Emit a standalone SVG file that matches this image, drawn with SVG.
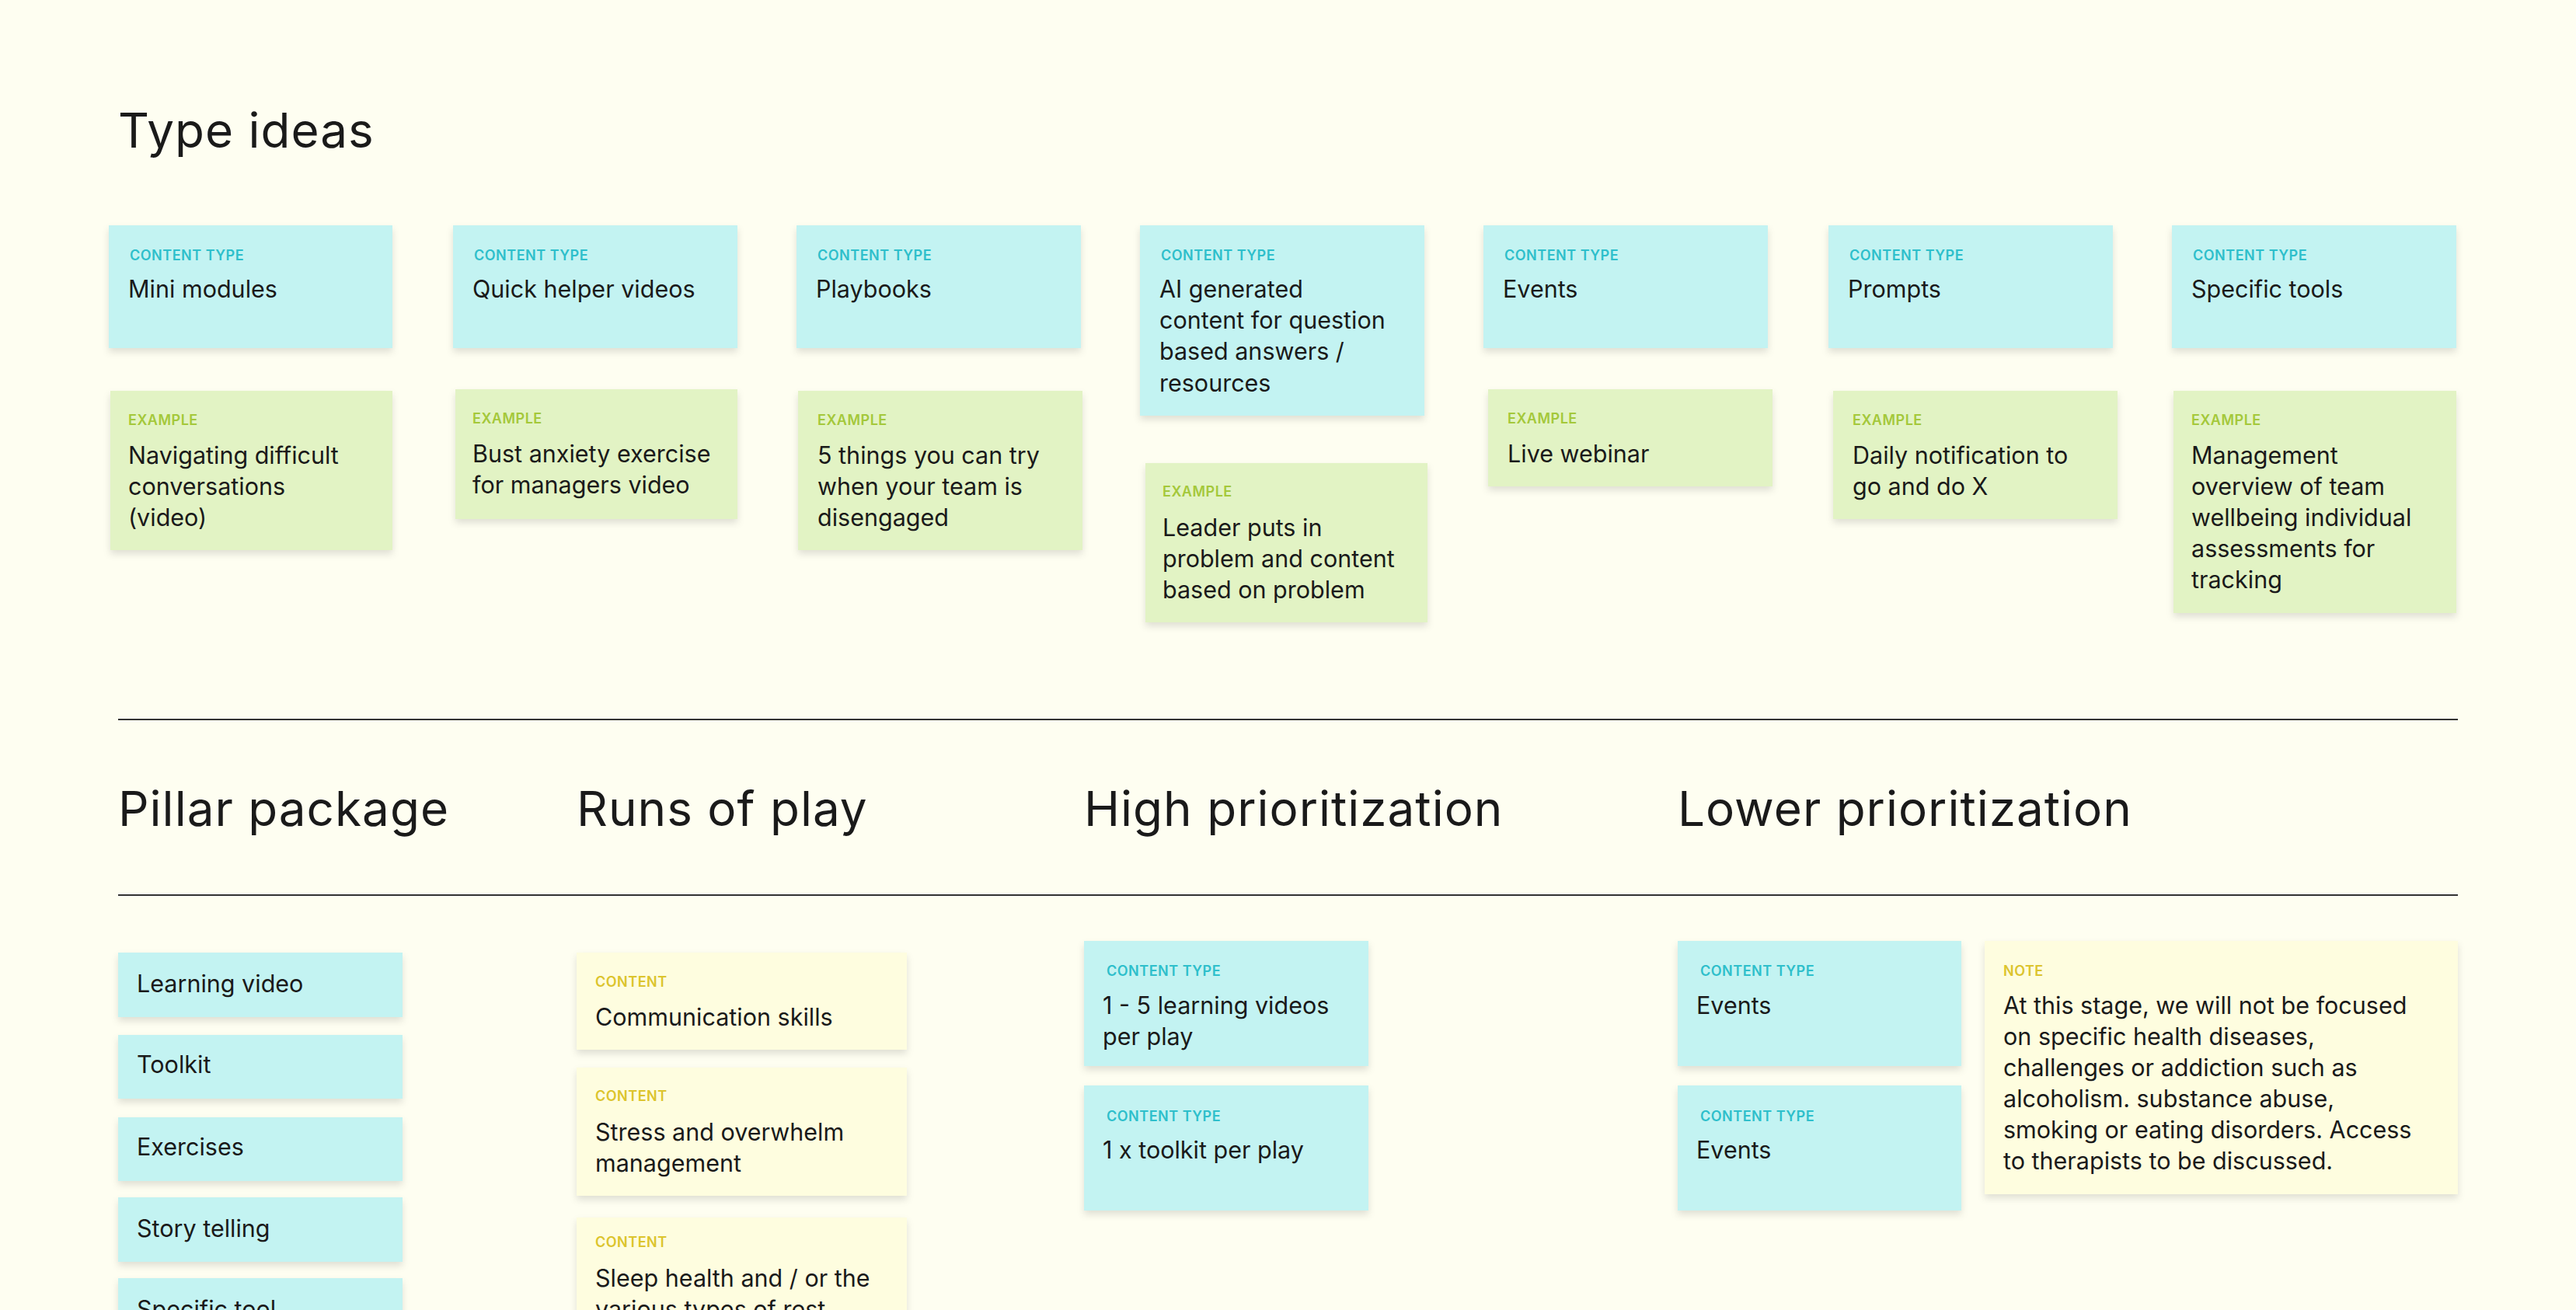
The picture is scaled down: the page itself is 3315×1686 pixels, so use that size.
<svg xmlns="http://www.w3.org/2000/svg" width="3315" height="1686" viewBox="0 0 3315 1686">
<defs>
<filter id="sh" x="-10%" y="-10%" width="120%" height="130%"><feDropShadow dx="0" dy="5" stdDeviation="5" flood-color="#000" flood-opacity="0.12"/></filter>
</defs>
<style>
text{font-family:Inter,"Liberation Sans",sans-serif;fill:#1a1a1a}
.h{font-size:62px}
.t{font-size:30.5px}
.l{font-size:18px;font-weight:600;letter-spacing:0.5px}
.c rect{fill:#c3f3f2;filter:url(#sh)}
.c .l{fill:#2ebfcb}
.g rect{fill:#e2f3c4;filter:url(#sh)}
.g .l{fill:#a4c83a}
.y rect{fill:#fefddf;filter:url(#sh)}
.y .l{fill:#dcc42d}
</style>
<rect width="3315" height="1686" fill="#fefef1"/>
<text class="h" x="152" y="190" letter-spacing="1">Type ideas</text>
<text class="h" x="152" y="1063" letter-spacing="1">Pillar package</text>
<text class="h" x="742" y="1063" letter-spacing="1">Runs of play</text>
<text class="h" x="1395" y="1063" letter-spacing="1">High prioritization</text>
<text class="h" x="2159" y="1063" letter-spacing="1">Lower prioritization</text>
<g id="lines" stroke="#333" stroke-width="2"><line x1="152" y1="926" x2="3163" y2="926"/><line x1="152" y1="1152" x2="3163" y2="1152"/></g>

<g id="ct1" class="c"><rect x="140" y="290" width="365" height="158"/><text class="l" x="167" y="335">CONTENT TYPE</text><text class="t" x="165" y="383">Mini modules</text></g>
<g id="ct2" class="c"><rect x="583" y="290" width="366" height="158"/><text class="l" x="610" y="335">CONTENT TYPE</text><text class="t" x="608" y="383">Quick helper videos</text></g>
<g id="ct3" class="c"><rect x="1025" y="290" width="366" height="158"/><text class="l" x="1052" y="335">CONTENT TYPE</text><text class="t" x="1050" y="383">Playbooks</text></g>
<g id="ct4" class="c"><rect x="1467" y="290" width="366" height="245"/><text class="l" x="1494" y="335">CONTENT TYPE</text><text class="t" x="1492" y="383">AI generated</text><text class="t" x="1492" y="423">content for question</text><text class="t" x="1492" y="463">based answers /</text><text class="t" x="1492" y="504">resources</text></g>
<g id="ct5" class="c"><rect x="1909" y="290" width="366" height="158"/><text class="l" x="1936" y="335">CONTENT TYPE</text><text class="t" x="1934" y="383">Events</text></g>
<g id="ct6" class="c"><rect x="2353" y="290" width="366" height="158"/><text class="l" x="2380" y="335">CONTENT TYPE</text><text class="t" x="2378" y="383">Prompts</text></g>
<g id="ct7" class="c"><rect x="2795" y="290" width="366" height="158"/><text class="l" x="2822" y="335">CONTENT TYPE</text><text class="t" x="2820" y="383">Specific tools</text></g>

<g id="ex1" class="g"><rect x="142" y="503" width="363" height="205"/><text class="l" x="165" y="547">EXAMPLE</text><text class="t" x="165" y="597">Navigating difficult</text><text class="t" x="165" y="637">conversations</text><text class="t" x="165" y="677">(video)</text></g>
<g id="ex2" class="g"><rect x="586" y="501" width="363" height="167"/><text class="l" x="608" y="545">EXAMPLE</text><text class="t" x="608" y="595">Bust anxiety exercise</text><text class="t" x="608" y="635">for managers video</text></g>
<g id="ex3" class="g"><rect x="1027" y="503" width="366" height="205"/><text class="l" x="1052" y="547">EXAMPLE</text><text class="t" x="1052" y="597">5 things you can try</text><text class="t" x="1052" y="637">when your team is</text><text class="t" x="1052" y="677">disengaged</text></g>
<g id="ex4" class="g"><rect x="1474" y="596" width="363" height="205"/><text class="l" x="1496" y="639">EXAMPLE</text><text class="t" x="1496" y="690">Leader puts in</text><text class="t" x="1496" y="730">problem and content</text><text class="t" x="1496" y="770">based on problem</text></g>
<g id="ex5" class="g"><rect x="1915" y="501" width="366" height="125"/><text class="l" x="1940" y="545">EXAMPLE</text><text class="t" x="1940" y="595">Live webinar</text></g>
<g id="ex6" class="g"><rect x="2359" y="503" width="366" height="165"/><text class="l" x="2384" y="547">EXAMPLE</text><text class="t" x="2384" y="597">Daily notification to</text><text class="t" x="2384" y="637">go and do X</text></g>
<g id="ex7" class="g"><rect x="2797" y="503" width="364" height="286"/><text class="l" x="2820" y="547">EXAMPLE</text><text class="t" x="2820" y="597">Management</text><text class="t" x="2820" y="637">overview of team</text><text class="t" x="2820" y="677">wellbeing individual</text><text class="t" x="2820" y="717">assessments for</text><text class="t" x="2820" y="757">tracking</text></g>

<g id="p1" class="c"><rect x="152" y="1226" width="366" height="83"/><text class="t" x="176" y="1277">Learning video</text></g>
<g id="p2" class="c"><rect x="152" y="1332" width="366" height="82"/><text class="t" x="176" y="1381">Toolkit</text></g>
<g id="p3" class="c"><rect x="152" y="1438" width="366" height="82"/><text class="t" x="176" y="1487">Exercises</text></g>
<g id="p4" class="c"><rect x="152" y="1541" width="366" height="83"/><text class="t" x="176" y="1592">Story telling</text></g>
<g id="p5" class="c"><rect x="152" y="1645" width="366" height="83"/><text class="t" x="176" y="1696">Specific tool</text></g>

<g id="r1" class="y"><rect x="742" y="1226" width="425" height="125"/><text class="l" x="766" y="1270">CONTENT</text><text class="t" x="766" y="1320">Communication skills</text></g>
<g id="r2" class="y"><rect x="742" y="1374" width="425" height="165"/><text class="l" x="766" y="1417">CONTENT</text><text class="t" x="766" y="1468">Stress and overwhelm</text><text class="t" x="766" y="1508">management</text></g>
<g id="r3" class="y"><rect x="742" y="1567" width="425" height="165"/><text class="l" x="766" y="1605">CONTENT</text><text class="t" x="766" y="1656">Sleep health and / or the</text><text class="t" x="766" y="1696">various types of rest</text></g>

<g id="hp1" class="c"><rect x="1395" y="1211" width="366" height="161"/><text class="l" x="1424" y="1256">CONTENT TYPE</text><text class="t" x="1419" y="1305">1 - 5 learning videos</text><text class="t" x="1419" y="1345">per play</text></g>
<g id="hp2" class="c"><rect x="1395" y="1397" width="366" height="161"/><text class="l" x="1424" y="1443">CONTENT TYPE</text><text class="t" x="1419" y="1491">1 x toolkit per play</text></g>

<g id="lp1" class="c"><rect x="2159" y="1211" width="365" height="161"/><text class="l" x="2188" y="1256">CONTENT TYPE</text><text class="t" x="2183" y="1305">Events</text></g>
<g id="lp2" class="c"><rect x="2159" y="1397" width="365" height="161"/><text class="l" x="2188" y="1443">CONTENT TYPE</text><text class="t" x="2183" y="1491">Events</text></g>
<g id="note" class="y"><rect x="2554" y="1211" width="609" height="326"/><text class="l" x="2578" y="1256">NOTE</text><text class="t" x="2578" y="1305">At this stage, we will not be focused</text><text class="t" x="2578" y="1345">on specific health diseases,</text><text class="t" x="2578" y="1385">challenges or addiction such as</text><text class="t" x="2578" y="1425">alcoholism. substance abuse,</text><text class="t" x="2578" y="1465">smoking or eating disorders. Access</text><text class="t" x="2578" y="1505">to therapists to be discussed.</text></g>
</svg>
